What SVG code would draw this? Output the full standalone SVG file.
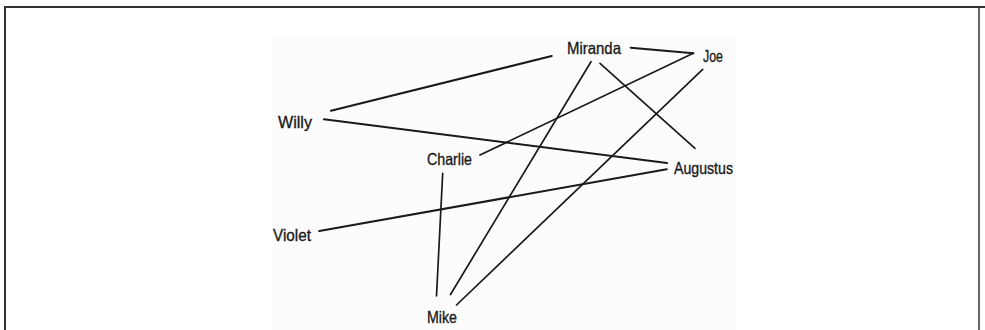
<svg xmlns="http://www.w3.org/2000/svg" width="985" height="330" viewBox="0 0 985 330">
<style>
.lbl{font-family:"Liberation Sans Narrow","Liberation Sans",Arial,sans-serif;font-size:16.5px;fill:#1a1a1a;stroke:#1a1a1a;stroke-width:0.35;}
.e{stroke:#1a1a1a;stroke-width:1.7;fill:none;stroke-linecap:round;}
.t{stroke-width:2.1;}
</style>
<rect x="0" y="0" width="985" height="330" fill="#ffffff"/>
<rect x="271" y="35" width="465" height="295" fill="#fcfcfc"/>
<path d="M5 330 V7 H985" stroke="#333" stroke-width="2" fill="none"/>
<line x1="979" y1="7" x2="979" y2="330" stroke="#333" stroke-width="1.5"/>
<g id="connectors">
<line class="e t" x1="331" y1="110.7" x2="551.7" y2="56"/>
<line class="e t" x1="324" y1="119.3" x2="667" y2="163"/>
<line class="e t" x1="630.7" y1="47.7" x2="693.3" y2="53.3"/>
<line class="e" x1="693.3" y1="53.3" x2="480" y2="155"/>
<line class="e" x1="591" y1="61.7" x2="450.5" y2="294.5"/>
<line class="e" x1="600" y1="63.3" x2="695" y2="148.3"/>
<line class="e" x1="702.7" y1="69.3" x2="456.5" y2="305"/>
<line class="e" x1="442.7" y1="173.3" x2="436.5" y2="296"/>
<line class="e t" x1="319.3" y1="231" x2="666.7" y2="169.3"/>
</g>
<g id="node-miranda"><text class="lbl" x="567" y="54" textLength="54" lengthAdjust="spacingAndGlyphs">Miranda</text></g>
<g id="node-joe"><text class="lbl" x="703" y="62" textLength="20" lengthAdjust="spacingAndGlyphs">Joe</text></g>
<g id="node-willy"><text class="lbl" x="278" y="128.3" textLength="34" lengthAdjust="spacingAndGlyphs">Willy</text></g>
<g id="node-charlie"><text class="lbl" x="427" y="164.5" textLength="45" lengthAdjust="spacingAndGlyphs">Charlie</text></g>
<g id="node-augustus"><text class="lbl" x="674" y="174" textLength="59" lengthAdjust="spacingAndGlyphs">Augustus</text></g>
<g id="node-violet"><text class="lbl" x="273" y="240.5" textLength="38" lengthAdjust="spacingAndGlyphs">Violet</text></g>
<g id="node-mike"><text class="lbl" x="427" y="322.7" textLength="30" lengthAdjust="spacingAndGlyphs">Mike</text></g>
</svg>
